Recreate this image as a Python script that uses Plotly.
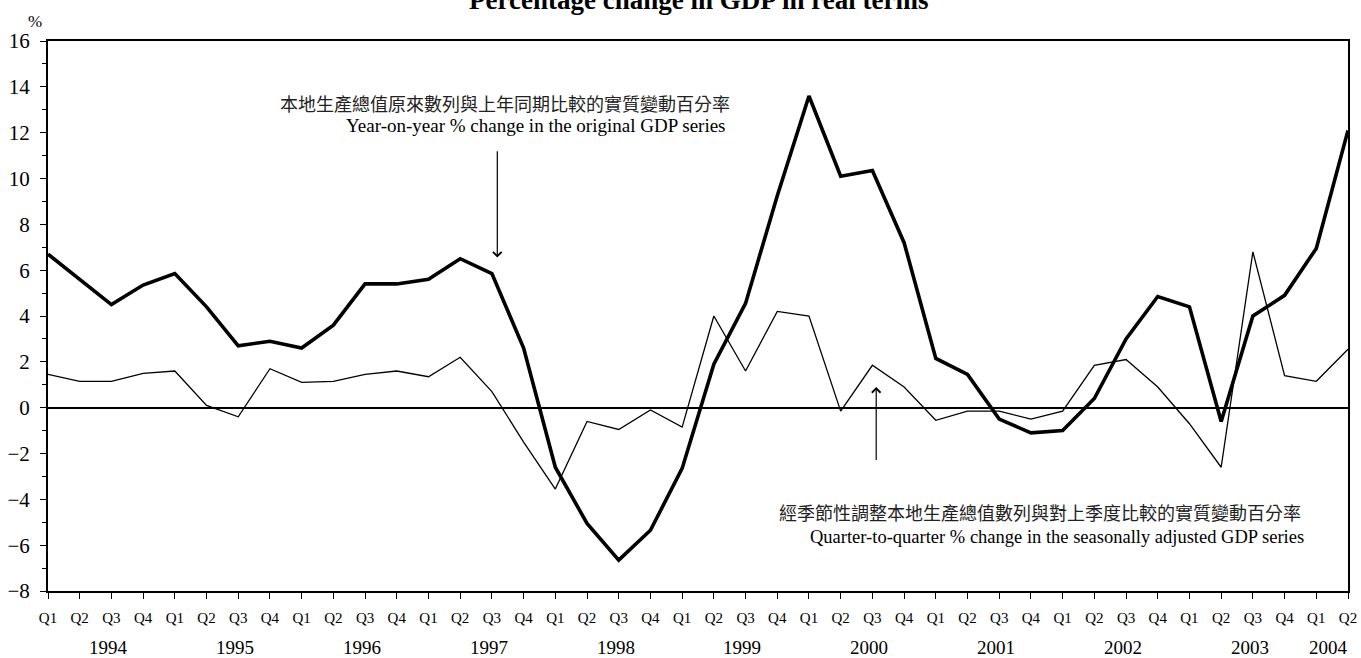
import plotly.graph_objects as go

years = ["1994", "1995", "1996", "1997", "1998", "1999", "2000", "2001", "2002", "2003", "2004"]
quarters_per_year = [4, 4, 4, 4, 4, 4, 4, 4, 4, 4, 2]
quarter_labels = []
for n in quarters_per_year:
    quarter_labels += ["Q1", "Q2", "Q3", "Q4"][:n]

yoy = [6.7, 5.6, 4.5, 5.35, 5.85, 4.4, 2.7, 2.9, 2.6, 3.6, 5.4, 5.4,
       5.6, 6.5, 5.85, 2.6, -2.6, -5.05, -6.65, -5.35, -2.65, 1.9, 4.55, 9.25,
       13.6, 10.1, 10.35, 7.2, 2.15, 1.45, -0.5, -1.1, -1.0, 0.4, 3.0, 4.85,
       4.4, -0.6, 4.0, 4.9, 6.95, 12.1]
qoq = [1.45, 1.15, 1.15, 1.5, 1.6, 0.1, -0.4, 1.7, 1.1, 1.15, 1.45, 1.6,
       1.35, 2.2, 0.7, -1.5, -3.55, -0.6, -0.95, -0.1, -0.85, 4.0, 1.6, 4.2,
       4.0, -0.15, 1.85, 0.9, -0.55, -0.15, -0.15, -0.5, -0.15, 1.85, 2.1, 0.9,
       -0.7, -2.6, 6.8, 1.4, 1.15, 2.55]

x = list(range(len(quarter_labels)))

SERIF = "Liberation Serif, Times New Roman, serif"
CJK = "Noto Sans CJK TC, Noto Sans CJK SC, sans-serif"

fig = go.Figure()
fig.add_trace(go.Scatter(x=x, y=qoq, mode="lines", line=dict(color="black", width=1.3),
                         showlegend=False, hoverinfo="skip"))
fig.add_trace(go.Scatter(x=x, y=yoy, mode="lines", line=dict(color="black", width=3.6),
                         showlegend=False, hoverinfo="skip"))

annotations = []
# year labels
start = 0
for yr, n in zip(years, quarters_per_year):
    pos = start + (1.9 if n == 4 else 0.4)
    annotations.append(dict(x=pos, y=-0.102, xref="x", yref="paper", text=yr, showarrow=False,
                            font=dict(family=SERIF, size=19, color="black"),
                            xanchor="center", yanchor="middle"))
    start += n

# title and unit
annotations.append(dict(x=(698 - 48) / 1300, y=1.075, xref="paper", yref="paper",
                        text="<b>Percentage change in GDP in real terms</b>", showarrow=False,
                        font=dict(family=SERIF, size=27, color="black"),
                        xanchor="center", yanchor="middle"))
annotations.append(dict(x=-0.010, y=1.036, xref="paper", yref="paper", text="%", showarrow=False,
                        font=dict(family=SERIF, size=17, color="black"),
                        xanchor="center", yanchor="middle"))

# arrows
annotations.append(dict(x=14.17, y=6.55, ax=14.17, ay=11.25, xref="x", yref="y", axref="x", ayref="y",
                        text="", showarrow=True, arrowhead=4, arrowsize=1.4, arrowwidth=1.2,
                        arrowcolor="black"))
annotations.append(dict(x=26.12, y=0.9, ax=26.12, ay=-2.35, xref="x", yref="y", axref="x", ayref="y",
                        text="", showarrow=True, arrowhead=4, arrowsize=1.4, arrowwidth=1.2,
                        arrowcolor="black"))

# series labels
annotations.append(dict(x=14.42, y=13.3, xref="x", yref="y",
                        text="本地生產總值原來數列與上年同期比較的實質變動百分率", showarrow=False,
                        font=dict(family=CJK, size=18, color="#222"), xanchor="center", yanchor="middle"))
annotations.append(dict(x=15.4, y=12.33, xref="x", yref="y",
                        text="Year-on-year % change in the original GDP series", showarrow=False,
                        font=dict(family=SERIF, size=19, color="black"), xanchor="center", yanchor="middle"))
annotations.append(dict(x=31.29, y=-4.55, xref="x", yref="y",
                        text="經季節性調整本地生產總值數列與對上季度比較的實質變動百分率", showarrow=False,
                        font=dict(family=CJK, size=18, color="#222"), xanchor="center", yanchor="middle"))
annotations.append(dict(x=31.83, y=-5.64, xref="x", yref="y",
                        text="Quarter-to-quarter % change in the seasonally adjusted GDP series", showarrow=False,
                        font=dict(family=SERIF, size=18.5, color="black"), xanchor="center", yanchor="middle"))

fig.update_layout(
    width=1361, height=658,
    margin=dict(l=48, r=13, t=41, b=67),
    paper_bgcolor="white", plot_bgcolor="white",
    annotations=annotations,
    xaxis=dict(range=[0, 41], tickvals=x, ticktext=quarter_labels, tickangle=0, automargin=False,
               showgrid=False, zeroline=False, showline=True, linecolor="black", linewidth=2,
               mirror=True, ticks="outside", ticklen=6, tickwidth=1.3, tickcolor="black",
               ticklabelstandoff=6,
               tickfont=dict(family=SERIF, size=15, color="black")),
    yaxis=dict(range=[-8, 16], dtick=2, tick0=0, showgrid=False, automargin=False,
               zeroline=True, zerolinecolor="black", zerolinewidth=1.5,
               showline=True, linecolor="black", linewidth=2, mirror=True,
               ticks="outside", ticklen=6, tickwidth=1.3, tickcolor="black",
               ticklabelstandoff=6,
               minor=dict(dtick=1, ticks="outside", ticklen=4, tickcolor="black", tickwidth=1),
               tickfont=dict(family=SERIF, size=21, color="black")),
)

fig.write_html("out.html", config={"displayModeBar": False},
               post_script="document.body.style.margin='0';document.body.style.overflow='hidden';")
